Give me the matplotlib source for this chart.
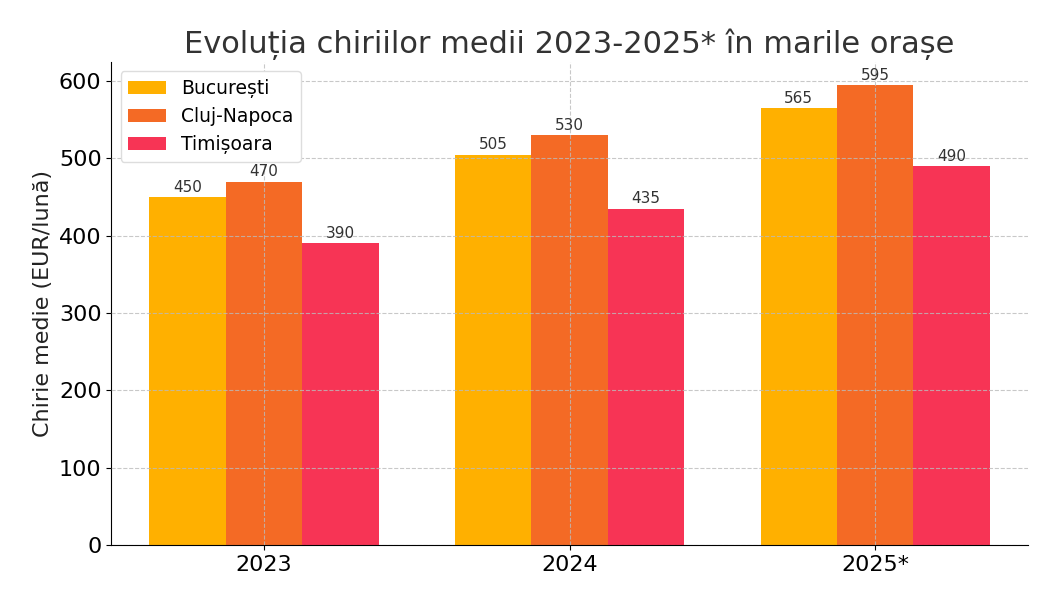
import matplotlib
matplotlib.use("Agg")
import matplotlib.pyplot as plt
import numpy as np

years = ["2023", "2024", "2025*"]
cities = ["București", "Cluj-Napoca", "Timișoara"]
values = {
    "București": [450, 505, 565],
    "Cluj-Napoca": [470, 530, 595],
    "Timișoara": [390, 435, 490],
}
colors = ["#FFB000", "#F46A25", "#F73455"]

fig = plt.figure(figsize=(10.5, 6), dpi=100)
ax = fig.add_axes([0.106, 0.092, 0.873, 0.805])
x = np.arange(len(years))
w = 0.25
for i, c in enumerate(cities):
    bars = ax.bar(x + (i - 1) * w, values[c], w, color=colors[i], label=c, zorder=1)
    for b, v in zip(bars, values[c]):
        ax.text(b.get_x() + b.get_width() / 2, v + 3, str(v), ha="center", va="bottom",
                fontsize=11, color="#333333", zorder=4)
ax.set_axisbelow(False)
ax.grid(True, linestyle="--", color="#BBBBBB", alpha=0.8, linewidth=0.8, zorder=3)
ax.set_xticks(x)
ax.set_xticklabels(years)
ax.tick_params(labelsize=16)
ax.set_ylim(0, 625)
ax.set_xlim(-0.5, 2.5)
ax.set_ylabel("Chirie medie (EUR/lună)", fontsize=16, color="#222222")
ax.set_title("Evoluția chiriilor medii 2023-2025* în marile orașe", fontsize=22, color="#333333")
for s in ["top", "right"]:
    ax.spines[s].set_visible(False)
ax.legend(loc="upper left", fontsize=13.5, framealpha=1, edgecolor="#DDDDDD")
fig.savefig("out.png", dpi=100)
